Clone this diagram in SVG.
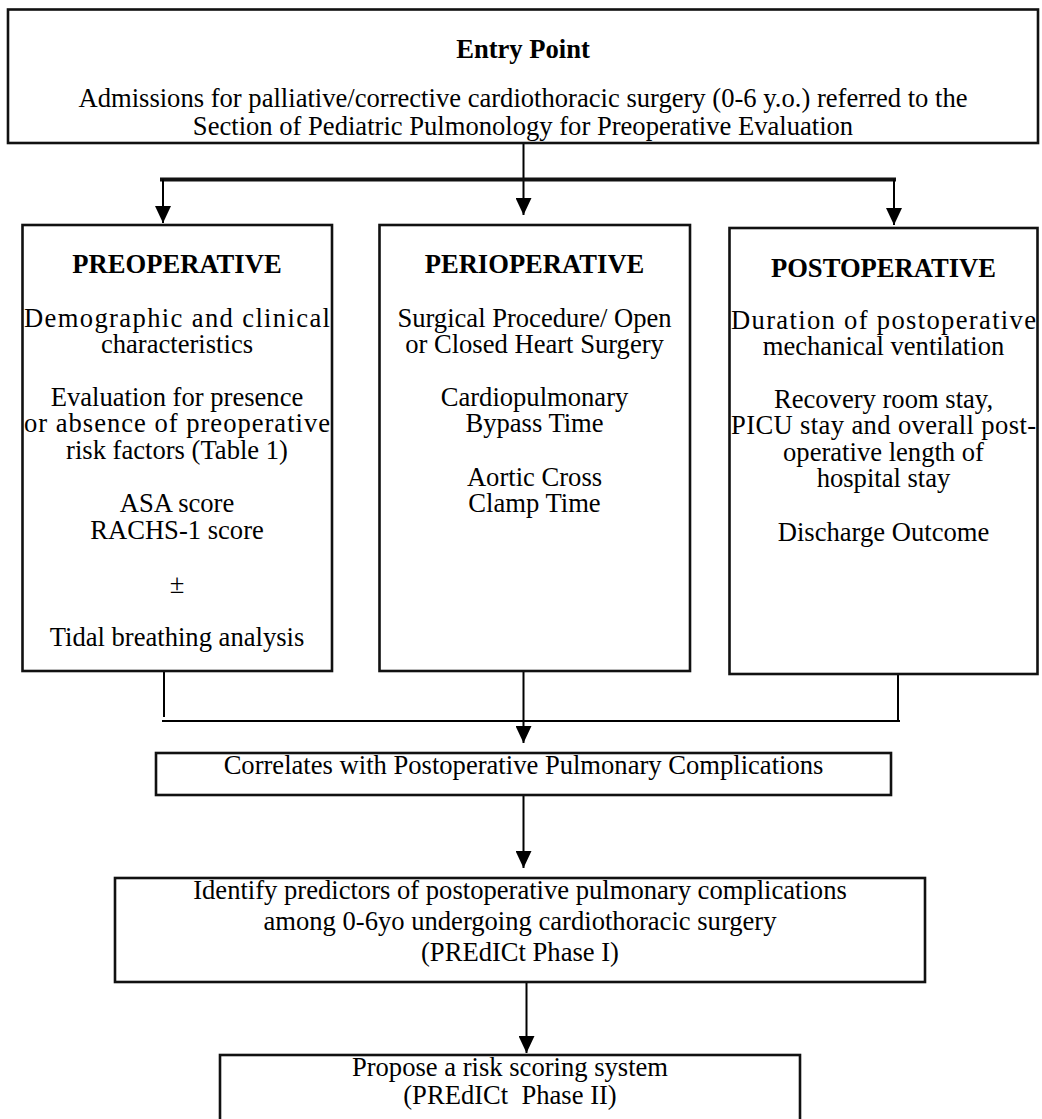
<svg xmlns="http://www.w3.org/2000/svg" width="1042" height="1119" viewBox="0 0 1042 1119">
<style>
  .box { fill: #ffffff; stroke: #111111; stroke-width: 2.6; }
  .t { font-family: "Liberation Serif", "Times New Roman", serif; font-size: 26.6px; fill: #000000; text-anchor: middle; }
  .b { font-weight: bold; }
  .j { text-anchor: start; }
  .ln { fill: none; stroke: #000000; stroke-width: 2; }
  .thick { fill: none; stroke: #111111; stroke-width: 4; }
</style>
<defs>
  <marker id="arr" markerUnits="userSpaceOnUse" markerWidth="17" markerHeight="16" refX="17" refY="8" orient="auto">
    <path d="M0,0 L17,8 L0,16 Z" fill="#000000"/>
  </marker>
</defs>
<rect width="1042" height="1119" fill="#ffffff"/>

<g id="connectors">
  <line class="ln" x1="523.5" y1="143" x2="523.5" y2="215" marker-end="url(#arr)"/>
  <line class="thick" x1="160" y1="179.5" x2="896" y2="179.5"/>
  <line class="ln" x1="163" y1="179.5" x2="163" y2="223" marker-end="url(#arr)"/>
  <line class="ln" x1="894" y1="179.5" x2="894" y2="225" marker-end="url(#arr)"/>
  <line class="ln" x1="164" y1="671" x2="164" y2="717" stroke-width="1.6"/>
  <line class="ln" x1="898" y1="674" x2="898" y2="721"/>
  <line class="ln" x1="162" y1="721" x2="900" y2="721"/>
  <line class="ln" x1="523.5" y1="671" x2="523.5" y2="743" marker-end="url(#arr)"/>
  <line class="ln" x1="523.5" y1="795" x2="523.5" y2="868" marker-end="url(#arr)"/>
  <line class="ln" x1="526.5" y1="982" x2="526.5" y2="1053" marker-end="url(#arr)"/>
</g>

<g id="entry">
  <rect class="box" x="8" y="9.5" width="1030" height="133.5" stroke-width="3"/>
  <text class="t b" x="523" y="58">Entry Point</text>
  <text class="t" x="523" y="107">Admissions for palliative/corrective cardiothoracic surgery (0-6 y.o.) referred to the</text>
  <text class="t" x="523" y="135">Section of Pediatric Pulmonology for Preoperative Evaluation</text>
</g>

<g id="preoperative">
  <rect class="box" x="22.5" y="225" width="309.5" height="446"/>
  <text class="t b" x="177" y="273">PREOPERATIVE</text>
  <text class="t j" x="24" y="327" textLength="306" lengthAdjust="spacing">Demographic and clinical</text>
  <text class="t" x="177" y="353">characteristics</text>
  <text class="t" x="177" y="406">Evaluation for presence</text>
  <text class="t j" x="24" y="432" textLength="306" lengthAdjust="spacing">or absence of preoperative</text>
  <text class="t" x="177" y="459">risk factors (Table 1)</text>
  <text class="t" x="177" y="512">ASA score</text>
  <text class="t" x="177" y="539">RACHS-1 score</text>
  <text class="t" x="177" y="593">±</text>
  <text class="t" x="177" y="646">Tidal breathing analysis</text>
</g>

<g id="perioperative">
  <rect class="box" x="379.5" y="225" width="310.5" height="446"/>
  <text class="t b" x="534.5" y="273">PERIOPERATIVE</text>
  <text class="t" x="534.5" y="327">Surgical Procedure/ Open</text>
  <text class="t" x="534.5" y="353">or Closed Heart Surgery</text>
  <text class="t" x="534.5" y="406">Cardiopulmonary</text>
  <text class="t" x="534.5" y="432">Bypass Time</text>
  <text class="t" x="534.5" y="486">Aortic Cross</text>
  <text class="t" x="534.5" y="512">Clamp Time</text>
</g>

<g id="postoperative">
  <rect class="box" x="729.5" y="228" width="308" height="446"/>
  <text class="t b" x="883.5" y="277">POSTOPERATIVE</text>
  <text class="t j" x="731" y="329" textLength="305" lengthAdjust="spacing">Duration of postoperative</text>
  <text class="t" x="883.5" y="355">mechanical ventilation</text>
  <text class="t" x="883.5" y="408">Recovery room stay,</text>
  <text class="t j" x="731" y="434" textLength="305" lengthAdjust="spacing">PICU stay and overall post-</text>
  <text class="t" x="883.5" y="461">operative length of</text>
  <text class="t" x="883.5" y="487">hospital stay</text>
  <text class="t" x="883.5" y="541">Discharge Outcome</text>
</g>

<g id="correlates">
  <rect class="box" x="156" y="753" width="735" height="42" stroke-width="3"/>
  <text class="t" x="523.5" y="774">Correlates with Postoperative Pulmonary Complications</text>
</g>

<g id="identify">
  <rect class="box" x="115" y="878" width="810" height="104" stroke-width="3"/>
  <text class="t" x="520" y="899">Identify predictors of postoperative pulmonary complications</text>
  <text class="t" x="520" y="930">among 0-6yo undergoing cardiothoracic surgery</text>
  <text class="t" x="520" y="961">(PREdICt Phase I)</text>
</g>

<g id="propose">
  <rect class="box" x="220" y="1055" width="580" height="80" stroke-width="3"/>
  <text class="t" x="510" y="1076">Propose a risk scoring system</text>
  <text class="t" x="510" y="1104">(PREdICt&#160; Phase II)</text>
</g>
</svg>
